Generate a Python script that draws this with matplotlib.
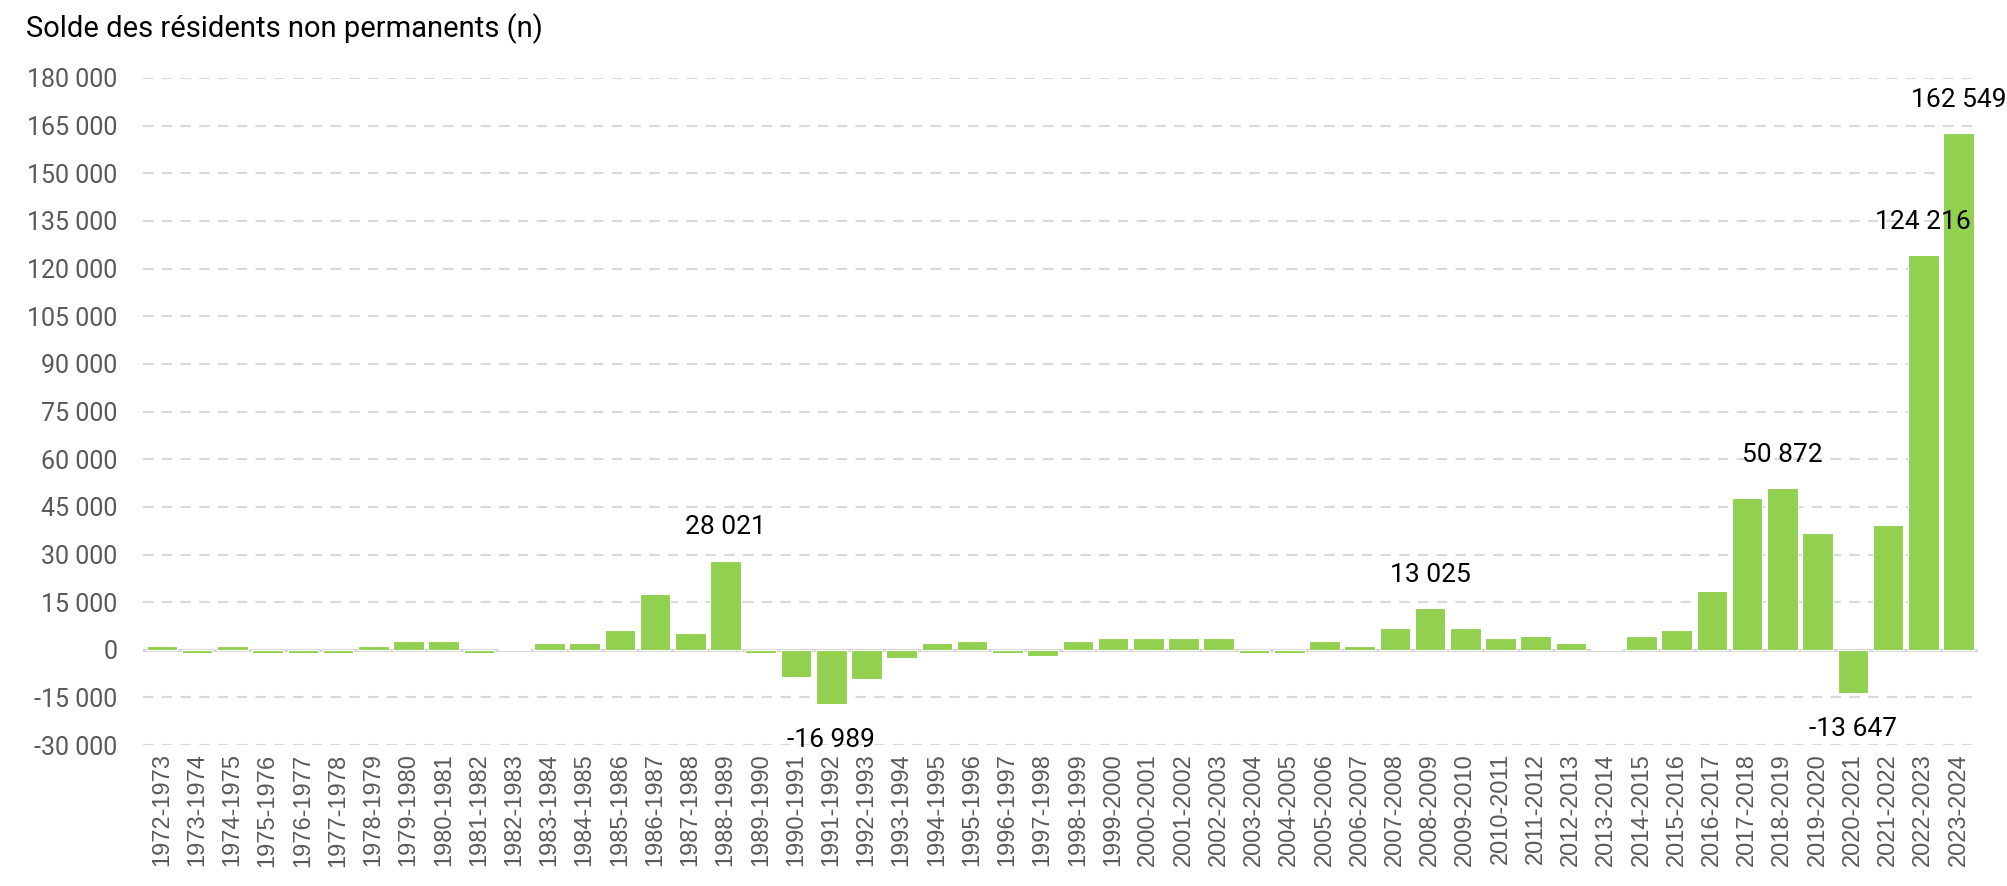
import numpy as np
import matplotlib.pyplot as plt
from matplotlib.ticker import FuncFormatter, MultipleLocator

# ==================== Data ====================

periods = [f"{y}-{y + 1}" for y in range(1972, 2024)]

values = [
    1200, -1100, 1200, -1100, -1100, -1100, 1200, 2800, 2800, -1100,
    300, 2000, 2000, 6200, 17500, 5300, 28021, -1100, -8400, -16989,
    -9300, -2700, 2000, 2800, -1100, -1900, 2800, 3700, 3700, 3700,
    3700, -1100, -1100, 2800, 1100, 6900, 13025, 6900, 3700, 4500,
    2000, 200, 4500, 6200, 18600, 47700, 50872, 36900, -13647, 39400,
    124216, 162549,
]

labelled = ["1988-1989", "1991-1992", "2008-2009", "2018-2019",
            "2020-2021", "2022-2023", "2023-2024"]

title = "Solde des résidents non permanents (n)"

bar_color = "#92D050"
grid_color = "#D9D9D9"
tick_color = "#595959"

narrow = ["Roboto", "DejaVu Sans"]
plain = ["Liberation Sans", "DejaVu Sans"]


def fmt_thousands(v, pos=None):
    s = f"{int(round(v)):,}".replace(",", " ")
    return s


# ==================== Plot ====================

fig = plt.figure(figsize=(20.08, 8.86), dpi=100)
ax = fig.add_axes([0.071, 0.159, 0.914, 0.753])

x = np.arange(len(periods))
ax.bar(x, values, width=0.87, color=bar_color, edgecolor="white",
       linewidth=0.8, zorder=3)

ax.set_xlim(-0.55, len(periods) - 0.45)
ax.set_ylim(-30000, 180000)
ax.yaxis.set_major_locator(MultipleLocator(15000))
ax.yaxis.set_major_formatter(FuncFormatter(fmt_thousands))

ax.grid(axis="y", color=grid_color, linestyle=(0, (5, 4)), linewidth=1.5,
        zorder=0)
ax.axhline(0, color=grid_color, linewidth=2.2, zorder=2)

for side in ["top", "right", "left", "bottom"]:
    ax.spines[side].set_visible(False)

ax.tick_params(axis="both", length=0)
ax.tick_params(axis="y", pad=18)
ax.tick_params(axis="x", pad=6)
ax.set_xticks(x)
ax.set_xticklabels(periods, rotation=90, family=plain, fontsize=17,
                   color=tick_color)
for lab in ax.get_yticklabels():
    lab.set_family(narrow)
    lab.set_fontsize(18)
    lab.set_color(tick_color)

# Data labels on a few bars
for i, (p, v) in enumerate(zip(periods, values)):
    if p not in labelled:
        continue
    if v >= 0:
        ax.annotate(fmt_thousands(v), (i, v), xytext=(0, 24),
                    textcoords="offset points", ha="center", va="center",
                    fontsize=19, family=narrow, color="black")
    else:
        ax.annotate(fmt_thousands(v), (i, v), xytext=(0, -26),
                    textcoords="offset points", ha="center", va="center",
                    fontsize=19, family=narrow, color="black")

fig.text(0.013, 0.968, title, ha="left", va="center", fontsize=21,
         family=narrow, color="black")

fig.savefig("out.png", dpi=100)
